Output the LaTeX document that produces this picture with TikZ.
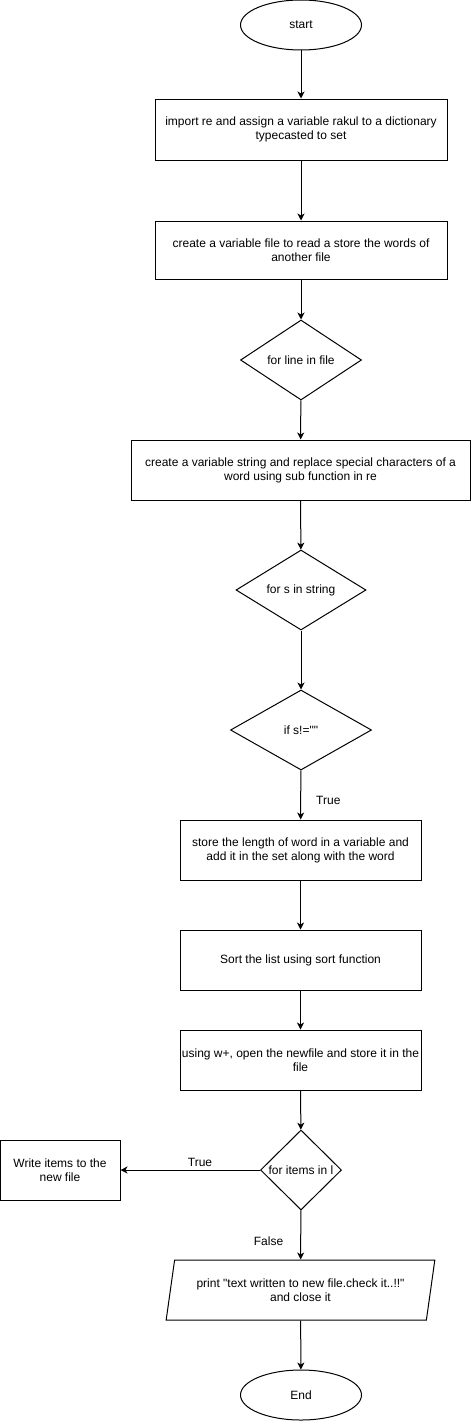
\documentclass[tikz,border=0pt]{standalone}
\usepackage{fontspec}
\setmainfont{Liberation Sans}[Ligatures=TeXOff]
\usetikzlibrary{arrows.meta,shapes.geometric,positioning}
\tikzset{x=1pt, y=-1pt, % one unit is one pixel of the drawing
        every node/.style={font=\fontsize{12}{14}\selectfont},
        terminal/.style={ % start and end
            ellipse, draw, line width=1pt,
            minimum width=121pt, minimum height=50pt, inner sep=0pt},
        process/.style={ % plain steps
            rectangle, draw, line width=1pt, align=center,
            minimum height=60pt, inner sep=0pt},
        decision/.style={ % tests and loops
            diamond, draw, line width=1pt,
            minimum height=80pt, inner sep=0pt},
        io/.style={ % output step
            trapezium, trapezium left angle=73, trapezium right angle=107,
            trapezium stretches=true, draw, line width=1pt, align=center,
            minimum width=269pt, minimum height=60pt, inner sep=0pt},
        edgelabel/.style={inner sep=0pt},
        every edge/.style={ % every connector
            draw,
            -{Stealth[length=7pt,width=7pt,inset=2pt]},
            line width=1pt}
        }
\begin{document}
\begin{tikzpicture}
    \useasboundingbox (0,0) rectangle (471,1421);

    \node[terminal] (start) at (301,25) {start};
    \node[process, minimum width=292pt, minimum height=61pt] (import) at (301,129.5)
        {import re and assign a variable rakul to a dictionary\\typecasted to set};
    \node[process, minimum width=292pt, minimum height=58pt] (readfile) at (301,250)
        {create a variable file to read a store the words of\\another file};
    \node[decision, minimum width=121pt] (forline) at (301,360) {\makebox[0pt]{for line in file}};
    \node[process, minimum width=339pt] (clean) at (300.5,470)
        {create a variable string and replace special characters of a\\word using sub function in re};
    \node[decision, minimum width=130pt] (fors) at (301,590) {\makebox[0pt]{for s in string}};
    \node[decision, minimum width=141pt] (ifs) at (301,730) {\makebox[0pt]{if s!=""}};
    \node[process, minimum width=241pt] (store) at (300.5,850)
        {store the length of word in a variable and\\add it in the set along with the word};
    \node[process, minimum width=241pt] (sort) at (300.5,960) {Sort the list using sort function};
    \node[process, minimum width=241pt] (open) at (300.5,1060)
        {using w+, open the newfile and store it in the\\file};
    \node[decision, minimum width=81pt] (foritems) at (301,1170) {\makebox[0pt]{for items in l}};
    \node[process, minimum width=120pt] (write) at (60,1170) {Write items to the\\new file};
    \node[io] (print) at (300.5,1290) {print "text written to new file.check it..!!"\\and close it};
    \node[terminal] (finish) at (301,1395) {End};

    \draw
        (start) edge (import)
        (import) edge (readfile)
        (readfile) edge (forline)
        (forline) edge (clean)
        (clean) edge (fors)
        (fors) edge (ifs)
        (ifs) edge node[edgelabel, pos=0.62, right=15pt] {True} (store)
        (store) edge (sort)
        (sort) edge (open)
        (open) edge (foritems)
        (foritems)
            edge node[edgelabel, pos=0.43, above=3pt] {True} (write)
            edge node[edgelabel, pos=0.62, left=17pt] {False} (print)
        (print) edge (finish);
\end{tikzpicture}
\end{document}
